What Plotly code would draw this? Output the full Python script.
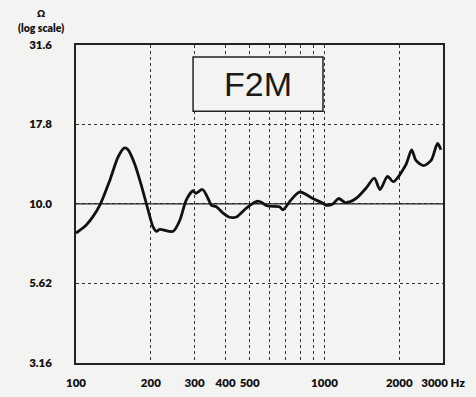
import plotly.graph_objects as go

# Impedance curve (Hz, ohms)
freq_hz = [100, 110, 117, 125, 137, 148, 157, 162, 172, 184, 195, 204, 211, 217, 246,
           262, 278, 296, 303, 323, 340, 351, 367, 391, 415, 442, 485, 539, 592, 659,
           681, 734, 794, 898, 984, 1016, 1080, 1141, 1213, 1339, 1469, 1587, 1673,
           1795, 1892, 2128, 2243, 2336, 2500, 2686, 2852, 2944]
impedance_ohm = [8.1, 8.59, 9.12, 9.95, 11.9, 14.1, 15.0, 14.8, 13.4, 11.3, 9.58, 8.49, 8.2, 8.32, 8.2,
                 8.9, 10.3, 11.0, 10.8, 11.1, 10.4, 9.9, 9.8, 9.35, 9.08, 9.1, 9.7, 10.2, 9.85, 9.8,
                 9.58, 10.3, 10.9, 10.4, 10.05, 9.9, 10.0, 10.4, 10.1, 10.4, 11.2, 12.05, 11.1,
                 12.2, 11.75, 13.3, 14.8, 13.7, 13.2, 13.7, 15.5, 14.8]

x_grid_vals = [100, 200, 300, 400, 500, 600, 700, 800, 900, 1000, 2000, 3000]
x_tick_text = ["100", "200", "300", "400", "500", "", "", "", "", "1000", "2000", "3000 Hz"]
y_tick_vals = [3.16, 5.62, 10.0, 17.8, 31.6]
y_tick_text = ["3.16", "5.62", "10.0", "17.8", "31.6"]
ref_line_x = [100, 3000]
ref_line_y = [10.0, 10.0]
title_text = "F2M"

bg = "#f3f3f1"
lab_font = dict(family="Lato", size=11.5, color="#111111", weight=800)

fig = go.Figure()
fig.add_trace(go.Scatter(x=ref_line_x, y=ref_line_y, mode="lines",
                         line=dict(color="#222222", width=1.3), hoverinfo="skip"))
fig.add_trace(go.Scatter(x=freq_hz, y=impedance_ohm, mode="lines",
                         line=dict(color="#111111", width=2.8, shape="spline", smoothing=0.8)))

fig.update_layout(
    width=476, height=397,
    margin=dict(l=76, r=33, t=45, b=34),
    paper_bgcolor=bg, plot_bgcolor=bg,
    showlegend=False,
    xaxis=dict(type="log", range=[2, 3.4771], tickmode="array",
               tickvals=x_grid_vals, ticktext=x_tick_text, automargin=False,
               showgrid=True, gridcolor="#333333", griddash="dot", gridwidth=1.4,
               showline=True, linecolor="#222222", linewidth=1.5, mirror=True,
               ticks="", ticklabelstandoff=8, tickfont=lab_font, zeroline=False),
    yaxis=dict(type="log", range=[0.4995, 1.5], tickmode="array", automargin=False,
               tickvals=y_tick_vals, ticktext=y_tick_text,
               showgrid=True, gridcolor="#333333", griddash="dot", gridwidth=1.4,
               showline=True, linecolor="#222222", linewidth=1.5, mirror=True,
               ticks="", ticklabelstandoff=20, tickfont=lab_font, zeroline=False),
)

fig.add_shape(type="rect", xref="paper", yref="paper",
              x0=0.319, x1=0.673, y0=0.792, y1=0.962,
              fillcolor=bg, line=dict(color="#222222", width=1.5), layer="above")
fig.add_annotation(xref="paper", yref="paper", x=0.496, y=0.877, text=title_text,
                   xanchor="center", yanchor="middle",
                   showarrow=False, font=dict(family="Liberation Sans", size=34, color="#1a1a1a"))
fig.add_annotation(xref="paper", yref="paper", x=-0.095, y=1.10, text="Ω",
                   xanchor="center", yanchor="middle",
                   showarrow=False, font=dict(family="Lato", size=10, color="#111111", weight=800))
fig.add_annotation(xref="paper", yref="paper", x=-0.095, y=1.053, text="(log scale)",
                   xanchor="center", yanchor="middle",
                   showarrow=False, font=dict(family="Lato", size=10.5, color="#111111", weight=800))

fig.write_html("out.html", config={"displayModeBar": False},
               post_script="document.body.style.margin='0';")
